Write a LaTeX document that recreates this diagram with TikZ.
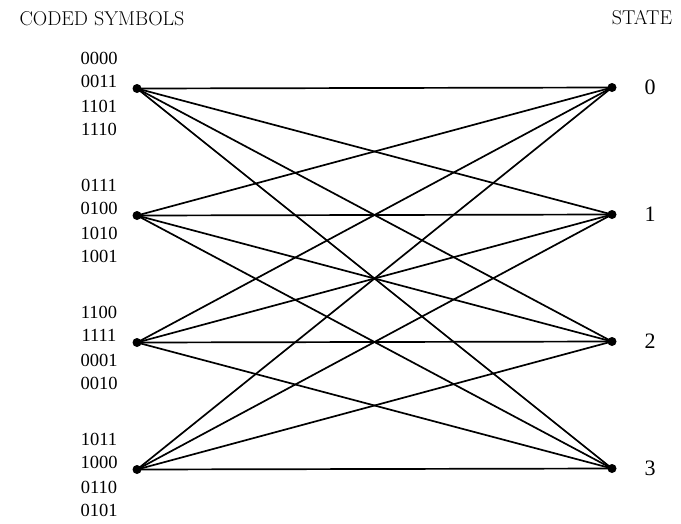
\documentclass[tikz,border=0pt]{standalone}
\usepackage{fontspec}
\newfontfamily\tms{Liberation Serif}
\begin{document}
\begin{tikzpicture}[x=1pt,y=-1pt,
  dotnode/.style={circle,fill=black,inner sep=0pt,minimum size=9pt},
  codelabel/.style={inner sep=0pt,font=\tms\fontsize{18.5}{20}\selectfont},
  statelabel/.style={inner sep=0pt,font=\tms\fontsize{22}{24}\selectfont},
  heading/.style={inner sep=0pt,font=\fontsize{20}{22}\selectfont},
  edge/.style={line width=1.7pt}]
\useasboundingbox (0,0) rectangle (681,523);
\node[heading] (hcoded) at (102,18.5) {CODED SYMBOLS};
\node[heading] (hstate) at (642,18) {STATE};
% left nodes
\node[dotnode] (L0) at (137,88.5) {};
\node[dotnode] (L1) at (137,215.5) {};
\node[dotnode] (L2) at (137,342.5) {};
\node[dotnode] (L3) at (137,469.5) {};
% right nodes
\node[dotnode] (R0) at (612,87.5) {};
\node[dotnode] (R1) at (612,214.5) {};
\node[dotnode] (R2) at (612,341.5) {};
\node[dotnode] (R3) at (612,468.5) {};
% state labels
\node[statelabel] (S0) at (650,87) {0};
\node[statelabel] (S1) at (650,214) {1};
\node[statelabel] (S2) at (650,341) {2};
\node[statelabel] (S3) at (650,468) {3};
% code labels
\foreach \g/\yy/\a/\b/\c/\d in {0/88/0000/0011/1101/1110, 1/215/0111/0100/1010/1001, 2/342/1100/1111/0001/0010, 3/469/1011/1000/0110/0101}{
  \node[codelabel] (C\g a) at (99,\yy-29.5) {\a};
  \node[codelabel] (C\g b) at (99,\yy-6.5) {\b};
  \node[codelabel] (C\g c) at (99,\yy+18) {\c};
  \node[codelabel] (C\g d) at (99,\yy+41.5) {\d};
}
% edges
\foreach \i in {0,...,3}{
  \foreach \j in {0,...,3}{
    \draw[edge] (L\i.center) -- (R\j.center);
  }
}
\end{tikzpicture}
\end{document}
